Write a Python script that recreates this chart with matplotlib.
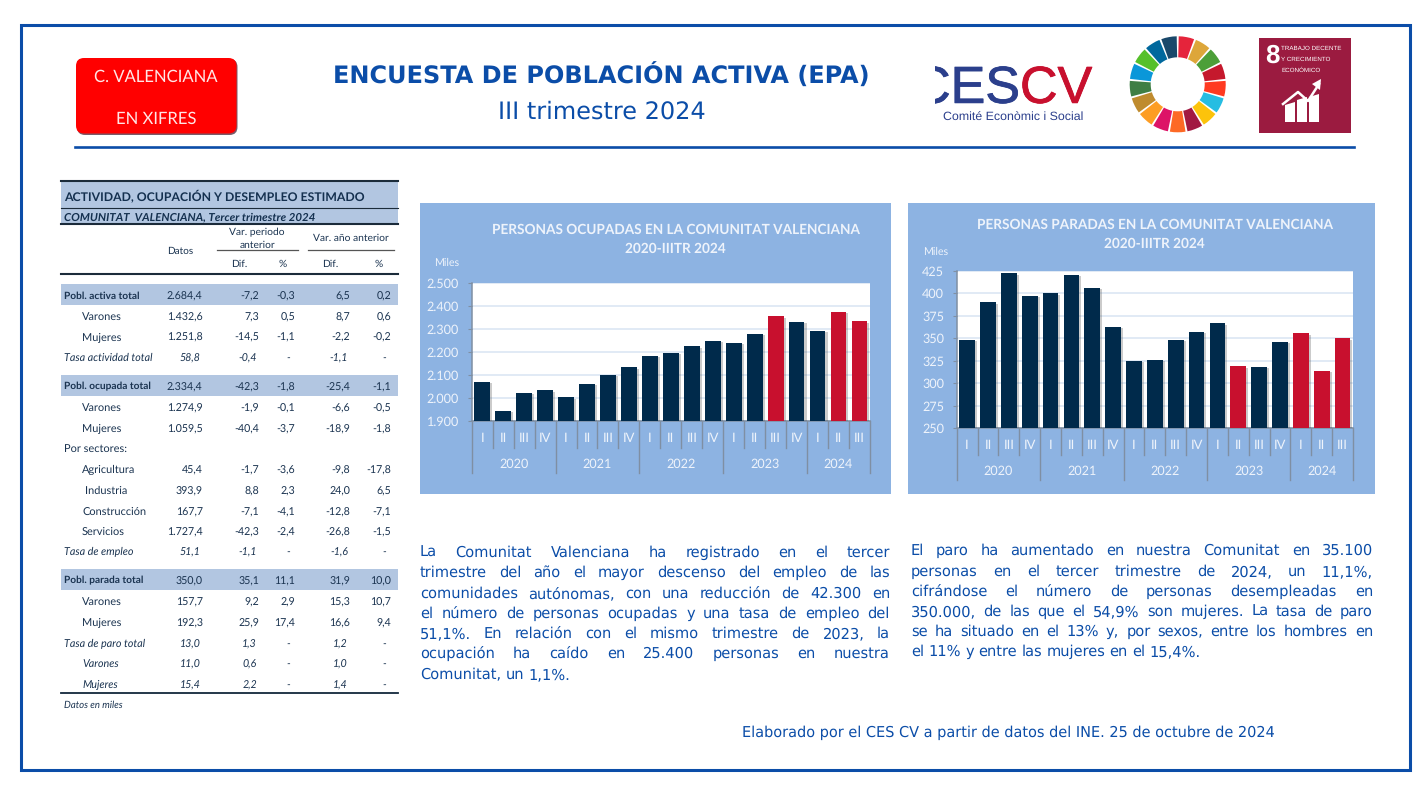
import matplotlib
matplotlib.use("Agg")
import matplotlib.pyplot as plt
import matplotlib.patheffects as pe
from matplotlib.patches import Rectangle, FancyBboxPatch, Wedge, Polygon

plt.rcParams["text.hinting"] = "no_hinting"

# chart data
quarters = ["I", "II", "III", "IV"] * 4 + ["I", "II", "III"]
years = ["2020", "2021", "2022", "2023", "2024"]
year_sizes = [4, 4, 4, 4, 3]
ocupadas = [2071, 1945, 2023, 2034, 2003, 2061, 2100, 2134, 2183, 2198,
            2225, 2250, 2241, 2279, 2356, 2333, 2294, 2376, 2334.4]
ocupadas_red = [14, 17, 18]
ocupadas_ticks = [1900, 2000, 2100, 2200, 2300, 2400, 2500]
paradas = [348, 390, 422, 397, 400, 420.5, 406, 363, 325, 326,
           348, 357, 366.5, 319, 318, 346, 355.5, 314, 350]
paradas_red = [13, 16, 17, 18]
paradas_ticks = [250, 275, 300, 325, 350, 375, 400, 425]

# table data
row_labels = ["Pobl. activa total", "Varones", "Mujeres", "Tasa actividad total",
              "Pobl. ocupada total", "Varones", "Mujeres", "Por sectores:",
              "Agricultura", "Industria", "Construcción", "Servicios", "Tasa de empleo",
              "Pobl. parada total", "Varones", "Mujeres", "Tasa de paro total",
              "Varones", "Mujeres"]
datos = ["2.684,4", "1.432,6", "1.251,8", "58,8", "2.334,4", "1.274,9", "1.059,5", "",
         "45,4", "393,9", "167,7", "1.727,4", "51,1",
         "350,0", "157,7", "192,3", "13,0", "11,0", "15,4"]
dif_per = ["-7,2", "7,3", "-14,5", "-0,4", "-42,3", "-1,9", "-40,4", "",
           "-1,7", "8,8", "-7,1", "-42,3", "-1,1",
           "35,1", "9,2", "25,9", "1,3", "0,6", "2,2"]
pct_per = ["-0,3", "0,5", "-1,1", "-", "-1,8", "-0,1", "-3,7", "",
           "-3,6", "2,3", "-4,1", "-2,4", "-",
           "11,1", "2,9", "17,4", "-", "-", "-"]
dif_anio = ["6,5", "8,7", "-2,2", "-1,1", "-25,4", "-6,6", "-18,9", "",
            "-9,8", "24,0", "-12,8", "-26,8", "-1,6",
            "31,9", "15,3", "16,6", "1,2", "1,0", "1,4"]
pct_anio = ["0,2", "0,6", "-0,2", "-", "-1,1", "-0,5", "-1,8", "",
            "-17,8", "6,5", "-7,1", "-1,5", "-",
            "10,0", "10,7", "9,4", "-", "-", "-"]

texto_ocupados = ["La Comunitat Valenciana ha registrado en el tercer",
                  "trimestre del año el mayor descenso del empleo de las",
                  "comunidades autónomas, con una reducción de 42.300 en",
                  "el número de personas ocupadas y una tasa de empleo del",
                  "51,1%. En relación con el mismo trimestre de 2023, la",
                  "ocupación ha caído en 25.400 personas en nuestra",
                  "Comunitat, un 1,1%."]
texto_parados = ["El paro ha aumentado en nuestra Comunitat en 35.100",
                 "personas en el tercer trimestre de 2024, un 11,1%,",
                 "cifrándose el número de personas desempleadas en",
                 "350.000, de las que el 54,9% son mujeres. La tasa de paro",
                 "se ha situado en el 13% y, por sexos, entre los hombres en",
                 "el 11% y entre las mujeres en el 15,4%."]

sdg_colors = ["#E5243B", "#DDA63A", "#4C9F38", "#C5192D", "#FF3A21", "#26BDE2",
              "#FCC30B", "#A21942", "#FD6925", "#DD1367", "#FD9D24", "#BF8B2E",
              "#3F7E44", "#0A97D9", "#56C02B", "#00689D", "#19486A"]

BLUE = "#0B4DA8"
PANEL = "#8DB3E2"
BAND = "#B2C6E1"
NAVY = "#002A4B"
RED = "#C8102E"
PALE = "#EEF3FB"
TABLE_TEXT = "#1A3350"
W, H = 1428, 799


def px(size):
    return size * 0.72


fig = plt.figure(figsize=(W / 100, H / 100), dpi=100, facecolor="white")
bg = fig.add_axes([0, 0, 1, 1])
bg.set_xlim(0, W)
bg.set_ylim(H, 0)
bg.axis("off")


def put(x, y, s, size, color=TABLE_TEXT, ha="left", weight="normal", style="normal", family="Lato"):
    return bg.text(x, y, s, fontsize=px(size), color=color, ha=ha, va="center_baseline",
                   fontweight=weight, fontstyle=style, family=family)


def justified(lines, x0, x1, ys, size):
    renderer = fig.canvas.get_renderer()
    for n, line in enumerate(lines):
        words = line.split(" ")
        # baseline alignment, so descenders do not move single words
        items = [bg.text(x0, ys[n] + size * 0.36, w, fontsize=px(size), color=BLUE, va="baseline",
                         family="DejaVu Sans") for w in words]
        widths = [t.get_window_extent(renderer).width for t in items]
        if n == len(lines) - 1:
            gap = size * 0.3
        else:
            gap = (x1 - x0 - sum(widths)) / (len(words) - 1)
        x = x0
        for t, w in zip(items, widths):
            t.set_x(x)
            x += w + gap


# frame and header
bg.add_patch(Rectangle((21, 25), 1389, 745, fill=False, ec=BLUE, lw=2.2))
bg.plot([75, 1354], [147, 147], color=BLUE, lw=1.9)
put(601.5, 74, "ENCUESTA DE POBLACIÓN ACTIVA (EPA)", 24, BLUE, "center", "bold", family="DejaVu Sans")
put(602, 110, "III trimestre 2024", 24, BLUE, "center", family="DejaVu Sans")

# red button
bg.add_patch(FancyBboxPatch((77, 59), 160.5, 76, boxstyle="round,pad=0,rounding_size=8",
                            fc="#7A5A68", ec="none"))
bg.add_patch(FancyBboxPatch((76, 58), 160.5, 75.5, boxstyle="round,pad=0,rounding_size=8",
                            fc="#FF0000", ec="none"))
put(156, 76, "C. VALENCIANA", 16.6, "#FFE6E6", "center")
put(156, 118, "EN XIFRES", 16.6, "#FFE6E6", "center")

# CES CV logo
clip = Rectangle((935, 50), 170, 80, transform=bg.transData)
t = put(1020, 84, "CES", 52, "#2B3F8C", "right", family="Liberation Sans")
t.set_path_effects([pe.withStroke(linewidth=0.6, foreground="#2B3F8C")])
t.set_clip_on(True)
t.set_clip_path(clip)
t = put(1020, 84, "CV", 52, "#C8102E", family="Liberation Sans")
t.set_path_effects([pe.withStroke(linewidth=0.6, foreground="#C8102E")])
put(943, 116, "Comité Econòmic i Social", 12.4, "#2B3F8C", family="Liberation Sans")

# SDG wheel
step = 360 / len(sdg_colors)
for i, c in enumerate(sdg_colors):
    bg.add_patch(Wedge((1177.7, 84.3), 48, -90 + i * step + 1.2, -90 + (i + 1) * step - 1.2,
                       width=21, fc=c, ec="none"))

# SDG 8 tile
bg.add_patch(Rectangle((1258.5, 38), 92.5, 94.5, fc="#9B1B40", ec="none"))
put(1272, 53, "8", 26, "white", "center", "bold", family="Liberation Sans")
for y, s in zip([47.7, 59, 70], ["TRABAJO DECENTE", "Y CRECIMIENTO", "ECONÓMICO"]):
    put(1281, y, s, 6.3, "white", family="Liberation Sans")
for xa, xb, top in [(1285, 1295, 105), (1297, 1307, 100), (1309, 1319, 97)]:
    bg.add_patch(Polygon([(xa, 122), (xa, top), (xb, top - 3), (xb, 122)], fc="white", ec="none"))
bg.plot([1283, 1298, 1308, 1319], [104, 92, 101, 84], color="white", lw=1.8)
bg.add_patch(Polygon([(1312, 84), (1321, 79), (1320, 90)], fc="white", ec="none"))

# table
bg.add_patch(Rectangle((61, 181), 337, 43, fc=BAND, ec="none"))
bg.plot([61, 398], [181, 181], color="#1B2B3A", lw=1.5)
bg.plot([61, 398], [207.5, 207.5], color="#1B2B3A", lw=0.8)
bg.plot([61, 398], [224, 224], color="#1B2B3A", lw=1.5)
bg.plot([61, 398], [274, 274], color="#1B2B3A", lw=1.5)
bg.plot([61, 398], [692.7, 692.7], color="#12283C", lw=1.3)
bg.plot([217, 298], [250, 250], color="#555555", lw=0.9)
bg.plot([308, 394], [250, 250], color="#555555", lw=0.9)
put(64, 195, "ACTIVIDAD, OCUPACIÓN Y DESEMPLEO ESTIMADO", 12.2, "#14304F", weight="bold")
put(64, 216.5, "COMUNITAT  VALENCIANA, Tercer trimestre 2024", 11.5, "#14304F", weight="bold", style="italic")
put(180, 250, "Datos", 10, ha="center")
put(257, 232, "Var. periodo", 10.2, ha="center")
put(257, 244, "anterior", 10.2, ha="center")
put(351, 237.5, "Var. año anterior", 10.2, ha="center")
for x, s in [(239, "Dif."), (283, "%"), (330, "Dif."), (379, "%")]:
    put(x, 263, s, 10.2, ha="center")

row_y = [295, 316, 336.5, 357, 386, 407, 428, 448, 469, 490, 511, 531, 551,
         580, 601, 622, 643, 663, 684]
bold_rows = [0, 4, 13]
italic_rows = [3, 12, 16, 17, 18]
flush_rows = [0, 3, 4, 7, 12, 13, 16]
col_x = [202.7, 259, 295, 350, 391]
for i, y in enumerate(row_y):
    if i in bold_rows:
        bg.add_patch(Rectangle((61, y - 11), 337, 21, fc=BAND, ec="none", zorder=0))
    weight = "bold" if i in bold_rows else "normal"
    style = "italic" if i in italic_rows else "normal"
    x = 63.5 if i in flush_rows else 82
    if row_labels[i] == "Industria":
        x = 85
    size = 10.1 if i in bold_rows else (10.8 if i in italic_rows else 11)
    put(x, y, row_labels[i], size, weight=weight, style=style)
    for cx, col in zip(col_x, [datos, dif_per, pct_per, dif_anio, pct_anio]):
        shift = 2 if i in italic_rows and col[i] != "-" else 0
        if col[i] == "-":
            shift = 5
        put(cx - shift, y, col[i], 10.6, ha="right", style=style)
put(64, 704, "Datos en miles", 9.6, style="italic")

# body text
justified(texto_ocupados, 420, 890, [552, 572, 592.5, 612.5, 632.5, 653, 674], 14.6)
justified(texto_parados, 911, 1373, [550, 570.5, 590.5, 611, 631, 651], 14.6)
put(742, 731, "Elaborado por el CES CV a partir de datos del INE. 25 de octubre de 2024", 14.5, BLUE, family="DejaVu Sans")


def bar_panel(panel, plot, values, red_idx, ticks, title, title_pos, miles_pos, quarter_y, quarter_end, year_y, year_end):
    x0, y0, x1, y1 = panel
    px0, py0, px1, py1 = plot
    bg.add_patch(Rectangle((x0, y0), x1 - x0, y1 - y0, fc=PANEL, ec="none"))
    for i, s in enumerate(title):
        put(title_pos[0], title_pos[1] + i * 19, s, 13.65, PALE, "center", "bold")
    put(miles_pos[0], miles_pos[1], "Miles", 10.6, PALE)

    ax = fig.add_axes([px0 / W, 1 - py1 / H, (px1 - px0) / W, (py1 - py0) / H])
    xs = list(range(len(values)))
    colors = [RED if i in red_idx else NAVY for i in xs]
    bars = ax.bar(xs, values, width=0.75, color=colors, zorder=3)
    for b in bars:
        b.set_path_effects([pe.SimplePatchShadow(offset=(1.5, -1), alpha=0.25, shadow_rgbFace="#333333"), pe.Normal()])
    ax.set_xlim(-0.5, len(values) - 0.5)
    ax.set_ylim(ticks[0], ticks[-1])
    ax.set_yticks(ticks)
    ax.set_yticklabels([f"{v:,}".replace(",", ".") for v in ticks], fontsize=px(12.6), color=PALE, family="Lato")
    ax.tick_params(axis="y", length=3, width=0.8, color="#7F8FA3", pad=6)
    ax.set_xticks([])
    ax.grid(axis="y", color="#DCE6F4", lw=1.2, zorder=0)
    for side in ["top", "right"]:
        ax.spines[side].set_visible(False)
    for side in ["left", "bottom"]:
        ax.spines[side].set_color("#7F8FA3")
        ax.spines[side].set_linewidth(1.1)

    # two level category axis below the bars
    trans = ax.get_xaxis_transform()
    h = py1 - py0
    for i, q in enumerate(quarters):
        ax.text(i, -(quarter_y - py1) / h, q, transform=trans, ha="center", va="center",
                fontsize=px(13), color=PALE, family="Lato")
    edge = 0
    edges = [0]
    for n in year_sizes:
        edge += n
        edges.append(edge)
    for k in range(len(values) + 1):
        end = year_end if k in edges else quarter_end
        ax.plot([k - 0.5, k - 0.5], [0, -(end - py1) / h], transform=trans, color="#7F8FA3",
                lw=1.0, clip_on=False)
    for k, y in enumerate(years):
        ax.text((edges[k] + edges[k + 1] - 1) / 2, -(year_y - py1) / h, y, transform=trans,
                ha="center", va="center", fontsize=px(12.6), color=PALE, family="Lato")


bar_panel((420, 203, 891, 494), (471.7, 283.3, 870, 421), ocupadas, ocupadas_red, ocupadas_ticks,
          ["PERSONAS OCUPADAS EN LA COMUNITAT VALENCIANA", "2020-IIITR 2024"], (675.7, 228.5), (434, 262),
          438, 448, 464, 473)
bar_panel((908, 203, 1375, 494), (956.7, 270.7, 1353, 428.3), paradas, paradas_red, paradas_ticks,
          ["PERSONAS PARADAS EN LA COMUNITAT VALENCIANA", "2020-IIITR 2024"], (1154.7, 224), (923, 251),
          445.7, 455, 471, 480)

fig.savefig("out.png", dpi=100)
